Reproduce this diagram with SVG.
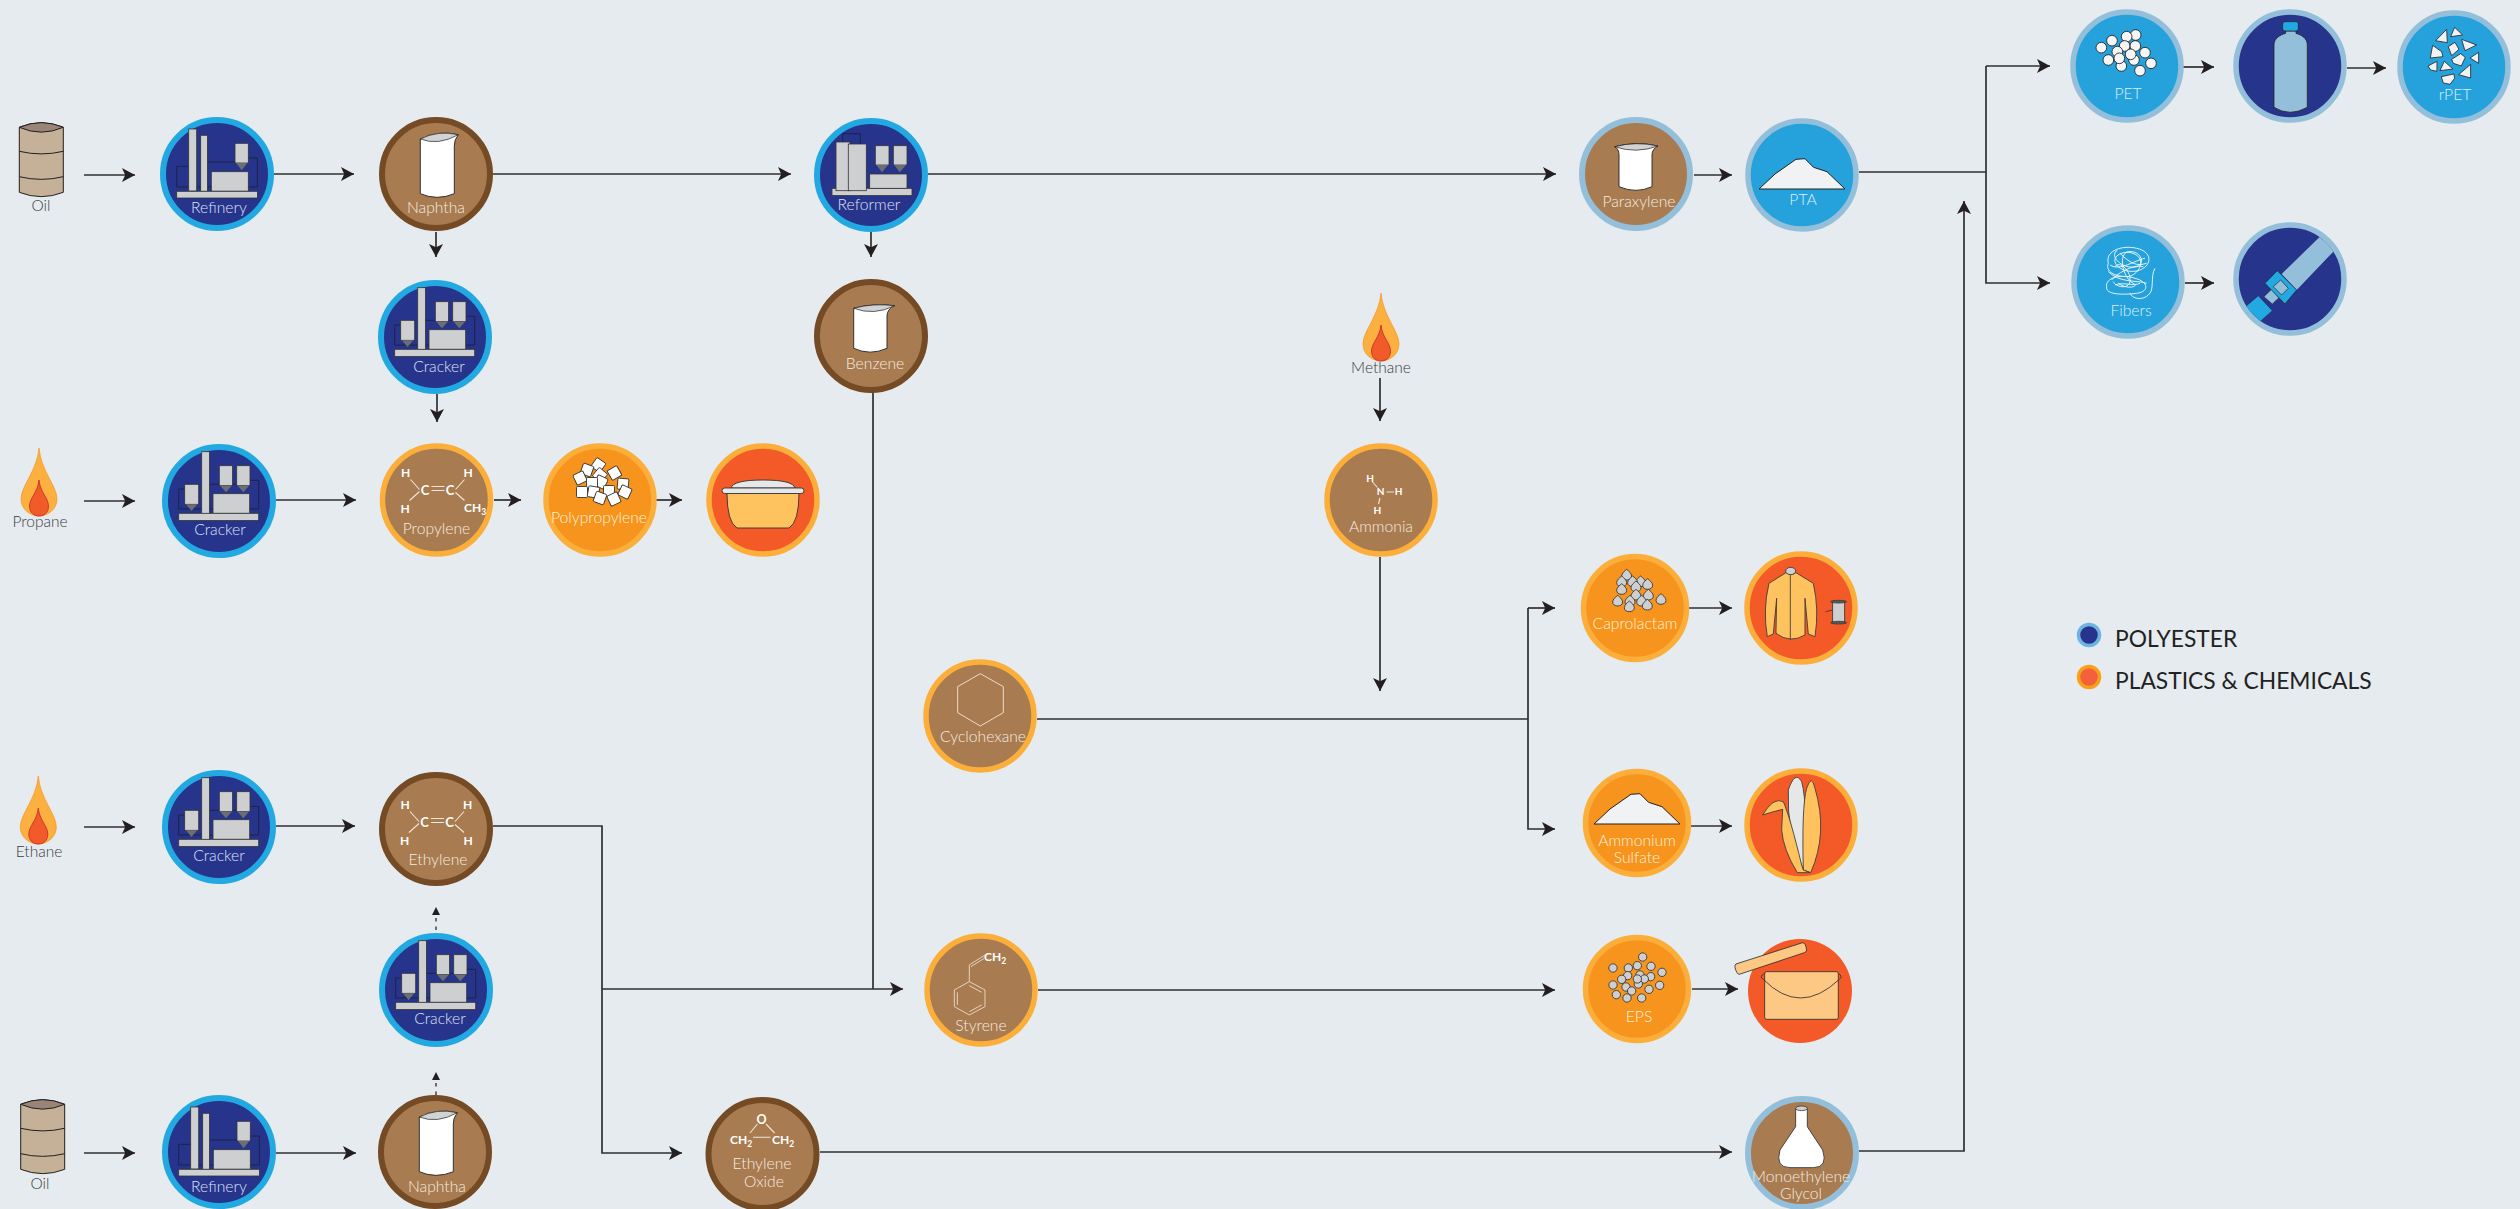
<svg xmlns="http://www.w3.org/2000/svg" width="2520" height="1209" viewBox="0 0 2520 1209">
<style>
.c{fill:none;stroke:#2f2f2f;stroke-width:1.7}
.a{marker-end:url(#arr)}
.d{fill:none;stroke:#444;stroke-width:1.5;stroke-dasharray:3.5 5;marker-end:url(#arrs)}
text{font-family:"Lato","Noto Sans",sans-serif;text-anchor:middle;font-size:15.7px;font-weight:300}
.lb{fill:#dfe2f5}.lw{fill:#f5ebe0}.lo{fill:#fff1da}.lc{fill:#dcf1fc}.ext{fill:#3c3c3e;font-size:15.5px}
.m{fill:#fff;font-weight:700;font-size:12px}.ms{font-size:8.5px}
.leg{fill:#222;font-size:22.8px;text-anchor:start;font-weight:400}
.pb{fill:#27348b;stroke:#23a9e1;stroke-width:6}
.bb{fill:#a87b50;stroke:#744b24;stroke-width:6}
.bo{fill:#a87b50;stroke:#fbaf3a;stroke-width:5.5}
.bp{fill:#a87b50;stroke:#94bfdb;stroke-width:6}
.oo{fill:#f7941d;stroke:#fbaf3a;stroke-width:5.5}
.ro{fill:#f35a28;stroke:#fbaf3a;stroke-width:5.5}
.lp{fill:#25a2dc;stroke:#94bfdb;stroke-width:5.5}
.dp{fill:#27348b;stroke:#94bfdb;stroke-width:5.5}
.g{fill:#cdcfd1;stroke:#333;stroke-width:.8}
.k{fill:#6d6e71}
.p{fill:none;stroke:#1c2340;stroke-width:.9}
.wh{fill:#fff;stroke:#222;stroke-width:.9}
.bond{fill:none;stroke:#f1e6da;stroke-width:1.1}
</style>
<defs>
<marker id="arr" markerUnits="userSpaceOnUse" markerWidth="16" markerHeight="16" refX="13" refY="8" orient="auto"><path d="M0,1 L13,8 L0,15 L3.2,8Z" fill="#231f20"/></marker>
<marker id="arrs" markerUnits="userSpaceOnUse" markerWidth="10" markerHeight="10" refX="8" refY="5" orient="auto"><path d="M0,1 L8,5 L0,9Z" fill="#231f20"/></marker>
<g id="refinery">
<path class="p" d="M-40.3,13 V-7.7 H-28 M-10,-12 H18 M31,-16 H40.4 V13 H-40.3"/>
<rect class="g" x="-28.3" y="-45" width="8" height="62"/>
<rect class="g" x="-16.3" y="-38.7" width="6.7" height="56"/>
<rect class="g" x="-5.7" y="-2.3" width="37" height="19.5"/>
<rect class="g" x="18" y="-30.7" width="13.3" height="19.7"/>
<path class="k" d="M19,-11 H30.3 L24.7,-3.7Z"/>
<rect class="g" x="-40.3" y="17.3" width="80.7" height="6.7"/>
</g>
<g id="cracker">
<path class="p" d="M-40.3,8 V-12 H-34.3 M-9.7,-16.7 H17.7 M31,-20.7 H39.7 V8 H-40.3"/>
<rect class="g" x="-17.3" y="-49.3" width="7.7" height="62"/>
<rect class="g" x="-6" y="-7.3" width="36.7" height="19.6"/>
<rect class="g" x="-34.3" y="-16.7" width="14" height="20"/>
<path class="k" d="M-33,3.3 H-21.7 L-27.5,10Z"/>
<rect class="g" x=".3" y="-35.3" width="13.3" height="20"/>
<path class="k" d="M1.3,-15.3 H12.7 L7,-8.7Z"/>
<rect class="g" x="17.7" y="-35.3" width="13.3" height="20"/>
<path class="k" d="M18.7,-15.3 H30 L24.3,-8.7Z"/>
<rect class="g" x="-40.3" y="12.3" width="80" height="7.3"/>
</g>
<g id="beaker">
<path class="wh" d="M-15.7,-35 Q2,-44 22.3,-39.3 Q18,-34 18.3,-28 V19.7 Q1,27 -15.7,19.7Z"/>
<path d="M-15.7,-35 Q2,-44 22.3,-39.3 Q2,-28 -15.7,-35Z" fill="#d1d3d4" stroke="#222" stroke-width=".7"/>
</g>
<g id="pile"><path d="M-43,14 L-27,-1 L-6,-15.7 L3,-16.3 L11.5,-7.7 L25,-3.3 L43,14Z" fill="#f1f2f4" stroke="#222" stroke-width="1"/></g>
<g id="flame">
<path d="M0,-68 C2,-45 18,-30 18,-17 C18,-6 8,0 0,0 C-8,0 -18,-6 -18,-17 C-18,-30 -2,-45 0,-68Z" fill="#fbb040" stroke="#f7941d" stroke-width=".7"/>
<path d="M0,-36 C1,-24 9.5,-18 9.5,-10 C9.5,-3 5,0 0,0 C-5,0 -9.5,-3 -9.5,-10 C-9.5,-18 -1,-24 0,-36Z" fill="#f15a29" stroke="#c1272d" stroke-width=".8"/>
</g>
<g id="drum">
<path d="M-22,-31.7 Q0,-41 22,-31.7 V33.3 Q0,42 -22,33.3Z" fill="#c4b198" stroke="#231f20" stroke-width="1"/>
<path d="M-22,-31.7 Q0,-41 22,-31.7 Q0,-22 -22,-31.7Z" fill="#9a8478" stroke="#231f20" stroke-width="1"/>
<path d="M-22,-7.7 Q0,-2.5 22,-7.7 M-22,17.7 Q0,23 22,17.7" fill="none" stroke="#231f20" stroke-width="1"/>
</g>
<g id="cc">
<path class="bond" d="M-26,-19 L-17,-9 M-17,-7 L-27,2 M28,-19 L19,-9 M19,-6 L28,2 M-5,-12 H8 M-5,-8 H8"/>
<text class="m" x="-31" y="-22">H</text><text class="m" x="31.5" y="-22">H</text>
<text class="m" style="font-size:13px" x="-11.5" y="-4">C</text><text class="m" style="font-size:13px" x="13.5" y="-4">C</text>
<text class="m" x="-31.5" y="14.5">H</text>
</g>
<path id="drop" d="M0,-17 C6,-12 15,-5 15,3 C15,11 8,15 0,15 C-8,15 -15,11 -15,3 C-15,-5 -6,-12 0,-17Z" fill="#cdcfd1" stroke="#333" stroke-width="2.6"/>
<circle id="ball" r="12.5" fill="#cdcfd1" stroke="#333" stroke-width="2.6"/>
<circle id="wball" r="16" fill="#f5f5f6" stroke="#231f20" stroke-width="2.6"/>
<rect id="chip" x="-5.500" y="-5.500" width="11" height="11" rx="1.200" fill="#fff" stroke="#333" stroke-width=".9"/>
<clipPath id="beltclip"><circle cx="751" cy="838" r="154"/></clipPath>
</defs>
<rect width="2520" height="1209" fill="#e5ebee"/>

<g id="connectors">
<path class="c a" d="M84,175H135"/>
<path class="c a" d="M274,174H354"/>
<path class="c a" d="M493,174H791"/>
<path class="c a" d="M928,174H1556"/>
<path class="c a" d="M436,232V257"/>
<path class="c a" d="M437,394V422"/>
<path class="c a" d="M871,232V257"/>
<path class="c a" d="M84,501H135"/>
<path class="c a" d="M275,500H356"/>
<path class="c a" d="M494,500H521"/>
<path class="c a" d="M656,500H682"/>
<path class="c a" d="M84,827H135"/>
<path class="c a" d="M276,826H355"/>
<path class="c a" d="M84,1153H135"/>
<path class="c a" d="M276,1153H356"/>
<path class="d" d="M436,930V907"/>
<path class="d" d="M436,1095V1072"/>
<path class="c a" d="M493,826H602V1153H682"/>
<path class="c a" d="M602,989H903"/>
<path class="c" d="M873,392V989"/>
<path class="c a" d="M820,1152H1732"/>
<path class="c a" d="M1038,990H1555"/>
<path class="c a" d="M1692,989H1738"/>
<path class="c a" d="M1859,1151H1964V201"/>
<path class="c" d="M1859,172H1986"/>
<path class="c a" d="M1986,66V283H2050"/>
<path class="c a" d="M1986,66H2050"/>
<path class="c a" d="M2183,67H2214"/>
<path class="c a" d="M2347,68H2386"/>
<path class="c a" d="M2185,283H2214"/>
<path class="c a" d="M1694,175H1732"/>
<path class="c a" d="M1380,378V421"/>
<path class="c a" d="M1380,557V691"/>
<path class="c" d="M1037,719H1528"/>
<path class="c a" d="M1528,608V829H1555"/>
<path class="c a" d="M1528,608H1555"/>
<path class="c a" d="M1689,608H1732"/>
<path class="c a" d="M1691,826H1732"/>
</g>

<g id="oil-top"><use href="#drum" x="41.3" y="159"/><text class="ext" x="41" y="211">Oil</text></g>
<g id="refinery-top"><circle class="pb" cx="217" cy="174" r="54"/><use href="#refinery" x="217" y="174"/><text class="lb" x="219" y="213">Refinery</text></g>
<g id="naphtha-top"><circle class="bb" cx="436" cy="174" r="54"/><use href="#beaker" x="436" y="174"/><text class="lw" x="436" y="213">Naphtha</text></g>
<g id="cracker-top"><circle class="pb" cx="435" cy="337" r="54"/><use href="#cracker" x="435" y="337"/><text class="lb" x="439" y="372">Cracker</text></g>
<g id="reformer"><circle class="pb" cx="871" cy="175" r="54"/>
<g transform="translate(871,175)">
<path class="p" d="M-28.3,-33 V-41.3 H-10.7 V-31"/>
<rect class="g" x="-39" y="13.3" width="80" height="7.3"/>
<rect class="g" x="-35" y="-33" width="14" height="48.7"/>
<rect class="g" x="-22.7" y="-31" width="18" height="46.7"/>
<rect class="g" x="-1.3" y="-1" width="37.3" height="14.3"/>
<rect class="g" x="4.3" y="-29.3" width="13.7" height="19.3"/><path class="k" d="M5.3,-10 H17 L11,-2.7Z"/>
<rect class="g" x="22.3" y="-29.3" width="13.7" height="19.3"/><path class="k" d="M23.3,-10 H35 L28.7,-2.7Z"/>
</g>
<text class="lb" x="869" y="210">Reformer</text></g>
<g id="benzene"><circle class="bb" cx="871" cy="336" r="54"/>
<g transform="translate(871,336)"><path class="wh" d="M-17.3,-27.7 Q2,-33 23.7,-30.3 Q16,-27 16,-20 V12.3 Q-1,20 -17.3,12.3Z"/><path d="M-17.3,-27.7 Q2,-33 23.7,-30.3 Q3,-20 -17.3,-27.7Z" fill="#d1d3d4" stroke="#222" stroke-width=".7"/></g>
<text class="lw" x="875" y="369">Benzene</text></g>
<g id="paraxylene"><circle class="bp" cx="1636" cy="174" r="54"/>
<g transform="translate(1636,175)"><path class="wh" d="M-21.3,-28.3 Q0,-34 22,-29 Q16,-26 16,-20 V11.7 Q0,19 -17,11.7 V-20 Q-17,-26 -21.3,-28.3Z"/><path d="M-21.3,-28.3 Q0,-34 22,-29 Q0,-21 -21.3,-28.3Z" fill="#d1d3d4" stroke="#222" stroke-width=".7"/></g>
<text class="lw" x="1639" y="207">Paraxylene</text></g>
<g id="pta"><circle class="lp" cx="1802" cy="175" r="54"/><use href="#pile" x="1802" y="175"/><text class="lc" x="1803" y="205">PTA</text></g>
<g id="pet"><circle class="lp" cx="2127" cy="66" r="54"/>
<g transform="translate(2040,0) scale(.3333)"><use href="#wball" x="184" y="143"/><use href="#wball" x="216" y="122"/><use href="#wball" x="287" y="105"/><use href="#wball" x="260" y="110"/><use href="#wball" x="254" y="138"/><use href="#wball" x="286" y="138"/><use href="#wball" x="232" y="155"/><use href="#wball" x="315" y="158"/><use href="#wball" x="205" y="180"/><use href="#wball" x="282" y="180"/><use href="#wball" x="244" y="198"/><use href="#wball" x="238" y="175"/><use href="#wball" x="272" y="163"/><use href="#wball" x="333" y="190"/><use href="#wball" x="300" y="212"/></g>
<text class="lc" x="2128" y="99">PET</text></g>
<g id="bottle"><circle class="dp" cx="2290" cy="66" r="54"/>
<g transform="translate(2040,0) scale(.3333)"><path d="M737,93 V100 C720,105 702,115 702,135 V322 Q750,352 802,322 V135 C802,115 785,105 768,100 V93Z" fill="#94bfdb" stroke="#231f20" stroke-width="2.4"/><rect x="728" y="65" width="47" height="28" rx="7" fill="#23a9e1" stroke="#231f20" stroke-width="2"/></g></g>
<g id="rpet"><circle class="lp" cx="2454" cy="67" r="54"/>
<g transform="translate(2040,0) scale(.3333)" fill="#f1f2f4" stroke="#231f20" stroke-width="2.4" stroke-linejoin="round">
<path d="M1187,122 L1220,88 L1222,128Z"/><path d="M1232,110 L1244,82 L1268,105Z"/><path d="M1265,118 L1310,135 L1275,152Z"/><path d="M1225,140 L1245,127 L1257,148 L1235,167Z"/><path d="M1178,136 L1205,155 L1209,170 L1171,174Z"/><path d="M1235,178 L1262,161 L1276,172 L1264,198 L1240,190Z"/><path d="M1290,174 L1316,157 L1316,190Z"/><path d="M1164,198 L1191,184 L1191,214 L1172,210Z"/><path d="M1200,212 L1213,184 L1239,207Z"/><path d="M1256,224 L1292,193 L1292,234Z"/><path d="M1204,230 L1242,222 L1244,235 L1230,253 L1210,249Z"/></g>
<text class="lc" x="2455" y="100">rPET</text></g>
<g id="fibers"><circle class="lp" cx="2128" cy="282" r="54"/>
<g transform="translate(2040,0) scale(.3333)" fill="none" stroke="#fff" stroke-width="2.6">
<path d="M205,790 C195,750 250,735 290,745 C335,755 335,790 310,805 C280,825 230,810 225,785 C220,760 270,745 295,770 C315,790 290,830 260,830 C225,830 195,815 205,790"/>
<path d="M200,860 C195,835 240,820 285,835 C325,845 330,875 290,880 C250,885 195,885 200,860"/>
<path d="M215,840 C225,825 280,790 310,800 M225,800 C240,780 275,815 270,845 C265,870 225,860 220,845"/>
<path d="M345,805 C330,830 345,870 325,885 C310,900 280,900 270,880"/>
<path d="M240,760 C270,790 290,800 320,790 M205,815 C240,850 290,840 320,850"/>
<path d="M232,750 C205,770 250,810 290,800 C320,790 300,750 265,755 C235,760 245,830 280,850 C300,860 260,870 235,850"/>
<path d="M225,855 C250,845 280,860 300,850 M210,795 C240,815 285,780 315,775"/></g>
<text class="lc" x="2131" y="316">Fibers</text></g>
<g id="seatbelt"><circle class="dp" cx="2290" cy="279" r="54"/>
<g transform="translate(2040,0) scale(.3333)"><g clip-path="url(#beltclip)">
<path d="M838,712 L900,700 V740 L880,755 L770,870 L725,822Z" fill="#94bfdb"/>
<path d="M655,887 L697,932 L660,965 L600,940 L620,917Z" fill="#23a9e1" stroke="#231f20" stroke-width="1.5"/></g>
<path d="M672,890 L695,868 L717,893 L697,912Z" fill="#94bfdb" stroke="#231f20" stroke-width="1.5"/>
<path d="M712,812 L770,870 L735,912 L675,850Z" fill="#23a9e1" stroke="#231f20" stroke-width="2"/>
<path d="M722,840 L745,865 L725,885 L700,860Z" fill="#94bfdb" stroke="#231f20" stroke-width="2"/></g></g>
<g id="propane"><use href="#flame" x="39" y="516"/><text class="ext" x="40" y="527">Propane</text></g>
<g id="cracker-propane"><circle class="pb" cx="219" cy="501" r="54"/><use href="#cracker" x="219" y="501"/><text class="lb" x="220" y="535">Cracker</text></g>
<g id="propylene"><circle class="bo" cx="436.5" cy="500" r="54"/><use href="#cc" x="436.5" y="498.5"/>
<text class="m" x="475" y="512">CH<tspan class="ms" dy="3">3</tspan></text>
<text class="lw" x="436.5" y="534">Propylene</text></g>
<g id="polypropylene"><circle class="oo" cx="600" cy="500" r="54"/>
<g transform="translate(600,500)">
<use href="#chip" transform="translate(-1.6,-35) rotate(35)"/>
<use href="#chip" transform="translate(-13,-30) rotate(20)"/>
<use href="#chip" transform="translate(-20,-22) rotate(-25)"/>
<use href="#chip" transform="translate(0,-25) rotate(40)"/>
<use href="#chip" transform="translate(14.5,-27) rotate(-30)"/>
<use href="#chip" transform="translate(1,-18) rotate(25)"/>
<use href="#chip" transform="translate(-8,-17) rotate(0)"/>
<use href="#chip" transform="translate(23,-16) rotate(5)"/>
<use href="#chip" transform="translate(-18,-8) rotate(0)"/>
<use href="#chip" transform="translate(-6.5,-8) rotate(10)"/>
<use href="#chip" transform="translate(9,-9) rotate(0)"/>
<use href="#chip" transform="translate(25,-8) rotate(25)"/>
<use href="#chip" transform="translate(0,-2) rotate(20)"/>
<use href="#chip" transform="translate(14,-1) rotate(-25)"/>
</g>
<text class="lo" x="599" y="523">Polypropylene</text></g>
<g id="bowl"><circle class="ro" cx="763" cy="500" r="54"/>
<g transform="translate(763,500)"><path d="M-36,-7 H36 Q36,22 26,28 H-26 Q-36,22 -36,-7Z" fill="#fec35f" stroke="#333" stroke-width=".9"/>
<path d="M-32,-12 Q-30,-20 0,-20 Q30,-20 32,-12Z" fill="#e6e7e8" stroke="#333" stroke-width=".9"/><rect x="-41" y="-12" width="82" height="5.5" rx="2.7" fill="#e6e7e8" stroke="#333" stroke-width=".9"/></g></g>
<g id="methane"><use href="#flame" x="1381" y="361"/><text class="ext" x="1381" y="373">Methane</text></g>
<g id="ammonia"><circle class="bo" cx="1381" cy="500" r="54"/>
<path class="bond" d="M1372.5,482 L1377.5,487.5 M1386.5,492 H1394 M1380,498 L1378.5,504"/>
<text class="m" style="font-size:10px" x="1370" y="481.5">H</text><text class="m" style="font-size:10px" x="1380.7" y="495.3">N</text><text class="m" style="font-size:10px" x="1398.7" y="495.3">H</text><text class="m" style="font-size:10px" x="1377.3" y="513.8">H</text>
<text class="lw" x="1381" y="532">Ammonia</text></g>
<g id="cyclohexane"><circle class="bo" cx="980" cy="716" r="54"/>
<g transform="translate(900,640) scale(.3333)"><path d="M241,101 L310,140 V218 L241,258 L173,218 V140Z" fill="none" stroke="#ecdccb" stroke-width="3"/></g>
<text class="lw" x="983" y="742">Cyclohexane</text></g>
<g id="styrene"><circle class="bo" cx="981" cy="990" r="54"/>
<g transform="translate(900,640) scale(.3333)" fill="none" stroke="#ecdccb" stroke-width="2.7"><path d="M208,1025 L255,1050 V1100 L208,1125 L163,1100 V1050Z M208,1037 L245,1057 M245,1095 L208,1115 M172,1095 V1057 M208,1025 V975 L255,945 M213,980 L253,955"/></g>
<text class="m" x="995" y="961">CH<tspan class="ms" dy="3">2</tspan></text>
<text class="lw" x="981" y="1031">Styrene</text></g>
<g id="caprolactam"><circle class="oo" cx="1635" cy="608" r="51.5"/>
<g transform="translate(1560,540) scale(.3333)"><use href="#drop" x="200" y="105"/><use href="#drop" x="242" y="125"/><use href="#drop" x="185" y="125"/><use href="#drop" x="218" y="125"/><use href="#drop" x="263" y="133"/><use href="#drop" x="185" y="148"/><use href="#drop" x="228" y="140"/><use href="#drop" x="228" y="165"/><use href="#drop" x="265" y="165"/><use href="#drop" x="303" y="178"/><use href="#drop" x="173" y="183"/><use href="#drop" x="210" y="183"/><use href="#drop" x="245" y="183"/><use href="#drop" x="262" y="195"/><use href="#drop" x="208" y="200"/></g>
<text class="lo" x="1635" y="629">Caprolactam</text></g>
<g id="jacket"><circle class="ro" cx="1801" cy="608" r="54"/>
<g transform="translate(1560,540) scale(.3333)" stroke="#3a3a3a" stroke-width="2.6">
<path d="M678,98 L627,130 Q608,210 622,290 L640,282 L650,175 L648,280 Q690,312 735,285 L735,175 L745,282 L765,290 Q778,210 760,130 L708,98 Q693,108 678,98Z" fill="#fec35f"/>
<path d="M691,105 V298" fill="none"/><ellipse cx="692" cy="93" rx="15" ry="11" fill="#cdcfd1"/>
<path d="M797,215 L818,210" fill="none"/><rect x="818" y="185" width="36" height="63" fill="#cdcfd1"/><ellipse cx="836" cy="185" rx="24" ry="4" fill="#58595b"/><ellipse cx="836" cy="248" rx="24" ry="4" fill="#58595b"/></g></g>
<g id="ammonium-sulfate"><circle class="oo" cx="1637" cy="823" r="51.5"/><use href="#pile" x="1637" y="810"/><text class="lo" x="1637" y="846">Ammonium</text><text class="lo" x="1637" y="863">Sulfate</text></g>
<g id="corn"><circle class="ro" cx="1801" cy="825" r="54"/>
<g transform="translate(1560,540) scale(.3333)" stroke="#3a3a3a" stroke-width="2.6" stroke-linejoin="round">
<path d="M685,750 Q705,690 725,725 Q745,800 730,990 Q680,880 685,750Z" fill="#e6e7e8"/>
<path d="M730,990 Q725,800 740,745 Q755,700 765,745 Q805,880 752,998Z" fill="#fec35f"/>
<path d="M608,825 Q640,770 670,785 Q690,830 725,975 L730,990 L750,998 H712 Q670,930 665,870 L668,808 Q640,815 608,825Z" fill="#fec35f"/></g></g>
<g id="eps"><circle class="oo" cx="1637" cy="989" r="51.5"/>
<g transform="translate(1560,920) scale(.3333)"><use href="#ball" x="248" y="111"/><use href="#ball" x="159" y="144"/><use href="#ball" x="205" y="144"/><use href="#ball" x="232" y="137"/><use href="#ball" x="273" y="139"/><use href="#ball" x="306" y="157"/><use href="#ball" x="240" y="165"/><use href="#ball" x="272" y="170"/><use href="#ball" x="253" y="177"/><use href="#ball" x="203" y="167"/><use href="#ball" x="185" y="178"/><use href="#ball" x="159" y="195"/><use href="#ball" x="235" y="192"/><use href="#ball" x="232" y="177"/><use href="#ball" x="198" y="201"/><use href="#ball" x="215" y="213"/><use href="#ball" x="267" y="208"/><use href="#ball" x="299" y="196"/><use href="#ball" x="169" y="224"/><use href="#ball" x="201" y="234"/><use href="#ball" x="245" y="234"/></g>
<text class="lo" x="1639" y="1022">EPS</text></g>
<g id="envelope"><circle cx="1800" cy="991" r="52" fill="#f35a28"/>
<g transform="translate(1560,920) scale(.3333)" fill="#fcc883" stroke="#333" stroke-width="2.6">
<path d="M528,132 L728,68 Q737,68 740,90 Q740,96 733,98 L538,163 Q530,163 525,142 Q524,134 528,132Z"/>
<rect x="614" y="155" width="221" height="143" rx="6"/>
<path d="M614,160 Q596,170 610,178 Q720,290 838,178 Q850,170 835,160" fill="none"/></g></g>
<g id="meg"><circle class="bp" cx="1802" cy="1153" r="54"/>
<g transform="translate(1560,920) scale(.3333)"><path d="M707,566 V620 L660,690 Q645,743 690,743 H760 Q805,743 788,690 L742,620 V566Z" fill="#fff" stroke="#333" stroke-width="2.6"/><ellipse cx="724.5" cy="565" rx="17.5" ry="7" fill="#cdcfd1" stroke="#333" stroke-width="2.4"/></g>
<text class="lw" x="1801" y="1182">Monoethylene</text><text class="lw" x="1801" y="1199">Glycol</text></g>
<g id="ethane"><use href="#flame" x="38.3" y="844"/><text class="ext" x="39" y="857">Ethane</text></g>
<g id="cracker-ethane"><circle class="pb" cx="219" cy="827" r="54"/><use href="#cracker" x="219" y="827"/><text class="lb" x="219" y="861">Cracker</text></g>
<g id="ethylene"><circle class="bb" cx="436" cy="829" r="54"/><use href="#cc" x="436" y="830.5"/><text class="m" x="468" y="845">H</text><text class="lw" x="438" y="865">Ethylene</text></g>
<g id="cracker-lower"><circle class="pb" cx="436" cy="990" r="54"/><use href="#cracker" x="436" y="990"/><text class="lb" x="440" y="1024">Cracker</text></g>
<g id="oil-bottom"><use href="#drum" x="42.7" y="1136"/><text class="ext" x="40" y="1189">Oil</text></g>
<g id="refinery-bottom"><circle class="pb" cx="219" cy="1152" r="54"/><use href="#refinery" x="219" y="1152"/><text class="lb" x="219" y="1192">Refinery</text></g>
<g id="naphtha-bottom"><circle class="bb" cx="435" cy="1152" r="54"/><use href="#beaker" x="435" y="1152"/><text class="lw" x="437" y="1192">Naphtha</text></g>
<g id="ethylene-oxide"><circle class="bb" cx="762.5" cy="1154" r="54"/>
<path class="bond" d="M750,1133 L757.4,1124 M766,1124 L774.6,1133 M753,1137.3 H770.5"/>
<text class="m" style="font-size:12.5px" x="761.5" y="1123.5">O</text><text class="m" x="741" y="1144">CH<tspan class="ms" dy="3">2</tspan></text><text class="m" x="783" y="1144">CH<tspan class="ms" dy="3">2</tspan></text>
<text class="lw" x="762" y="1169">Ethylene</text><text class="lw" x="764" y="1187">Oxide</text></g>
<g id="legend">
<circle cx="2089" cy="635" r="10.5" fill="#27348b" stroke="#6cb4e4" stroke-width="3.5"/><text class="leg" x="2115" y="647">POLYESTER</text>
<circle cx="2089" cy="677" r="10.5" fill="#f4603c" stroke="#f9a01b" stroke-width="3.5"/><text class="leg" x="2115" y="689">PLASTICS &amp; CHEMICALS</text>
</g>
</svg>
